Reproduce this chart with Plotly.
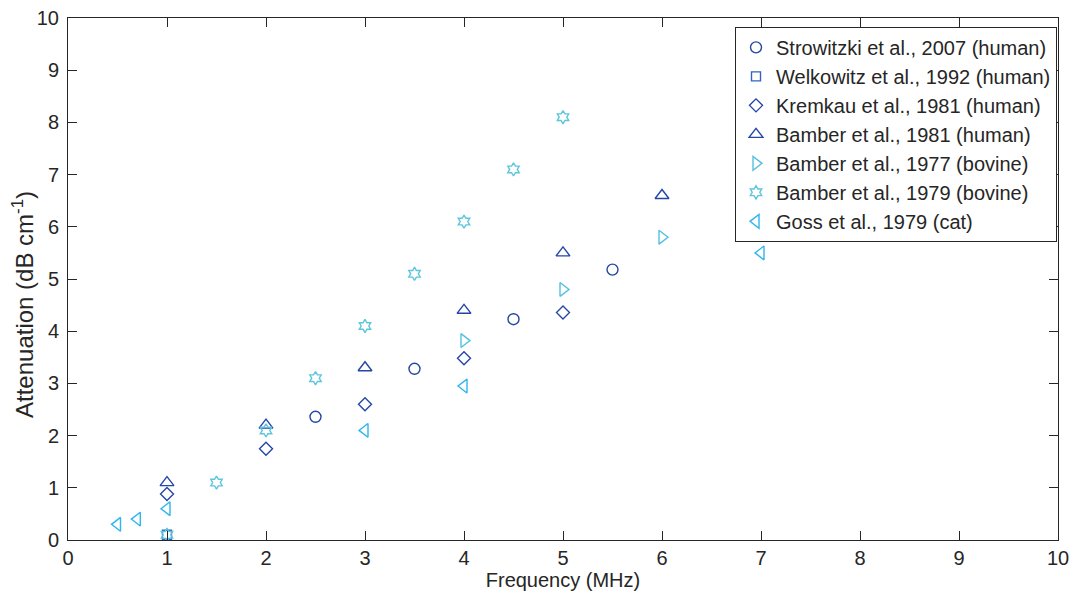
import plotly.graph_objects as go

# Data
strowitzki_x = [2.5, 3.5, 4.5, 5.5]
strowitzki_y = [2.36, 3.28, 4.23, 5.18]

welkowitz_x = [1.0]
welkowitz_y = [0.1]

kremkau_x = [1, 2, 3, 4, 5]
kremkau_y = [0.88, 1.75, 2.6, 3.48, 4.36]

bamber81_x = [1, 2, 3, 4, 5, 6]
bamber81_y = [1.1, 2.2, 3.3, 4.4, 5.5, 6.6]

bamber77_x = [4, 5, 6]
bamber77_y = [3.82, 4.8, 5.8]

bamber79_x = [1.0, 1.5, 2.0, 2.5, 3.0, 3.5, 4.0, 4.5, 5.0]
bamber79_y = [0.1, 1.1, 2.1, 3.1, 4.1, 5.1, 6.1, 7.1, 8.1]

goss_x = [0.5, 0.7, 1.0, 3.0, 4.0, 7.0]
goss_y = [0.3, 0.4, 0.6, 2.1, 2.95, 5.5]

x_ticks = list(range(0, 11))
y_ticks = list(range(0, 11))

x_title = "Frequency (MHz)"
y_title = "Attenuation (dB cm<sup>-1</sup>)"

FONT = "Liberation Sans, Arial, sans-serif"
INK = "#262626"
DARK = "#2347a5"
series = [
    ("Strowitzki et al., 2007 (human)", strowitzki_x, strowitzki_y, "circle-open", DARK, 11),
    ("Welkowitz et al., 1992 (human)", welkowitz_x, welkowitz_y, "square-open", "#2f64c0", 9),
    ("Kremkau et al., 1981 (human)", kremkau_x, kremkau_y, "diamond-open", DARK, 10),
    ("Bamber et al., 1981 (human)", bamber81_x, bamber81_y, "triangle-up-open", DARK, 12),
    ("Bamber et al., 1977 (bovine)", bamber77_x, bamber77_y, "triangle-right-open", "#55c0e2", 12),
    ("Bamber et al., 1979 (bovine)", bamber79_x, bamber79_y, "hexagram-open", "#5ec6dc", 10),
    ("Goss et al., 1979 (cat)", goss_x, goss_y, "triangle-left-open", "#2fb6ee", 12),
]

fig = go.Figure()
for name, xs, ys, sym, col, sz in series:
    fig.add_trace(go.Scatter(
        x=xs, y=ys, mode="markers", name=name,
        marker=dict(symbol=sym, size=sz, color=col, line=dict(color=col, width=1.4)),
    ))

axis_common = dict(
    showgrid=False, zeroline=False, showline=True, linecolor=INK, linewidth=1,
    mirror="ticks", ticks="inside", ticklen=9, tickcolor=INK, tickwidth=1,
    automargin=False,
    tickfont=dict(family=FONT, size=20, color=INK),
)

fig.update_xaxes(range=[0, 10], tickvals=x_ticks, title_text=x_title,
                 title_font=dict(family=FONT, size=20, color=INK),
                 title_standoff=2, **axis_common)
fig.update_yaxes(range=[0, 10], tickvals=y_ticks, ticklabelstandoff=4, **axis_common)

fig.add_annotation(
    text=y_title, xref="paper", yref="paper", x=-0.0455, y=0.452,
    xanchor="center", yanchor="middle", textangle=-90, showarrow=False,
    font=dict(family=FONT, size=24, color=INK),
)

fig.update_layout(
    width=1073, height=593,
    margin=dict(l=68, r=15, t=18, b=53),
    paper_bgcolor="white", plot_bgcolor="white",
    font=dict(family=FONT, size=20, color=INK),
    legend=dict(
        x=0.999, y=0.983, xanchor="right", yanchor="top",
        bgcolor="white", bordercolor=INK, borderwidth=1,
        font=dict(family=FONT, size=20, color=INK),
        itemwidth=30, tracegroupgap=0,
    ),
)

fig.write_html(
    "out.html",
    config={"displayModeBar": False},
    post_script="document.body.style.margin='0';document.body.style.overflow='hidden';",
)
